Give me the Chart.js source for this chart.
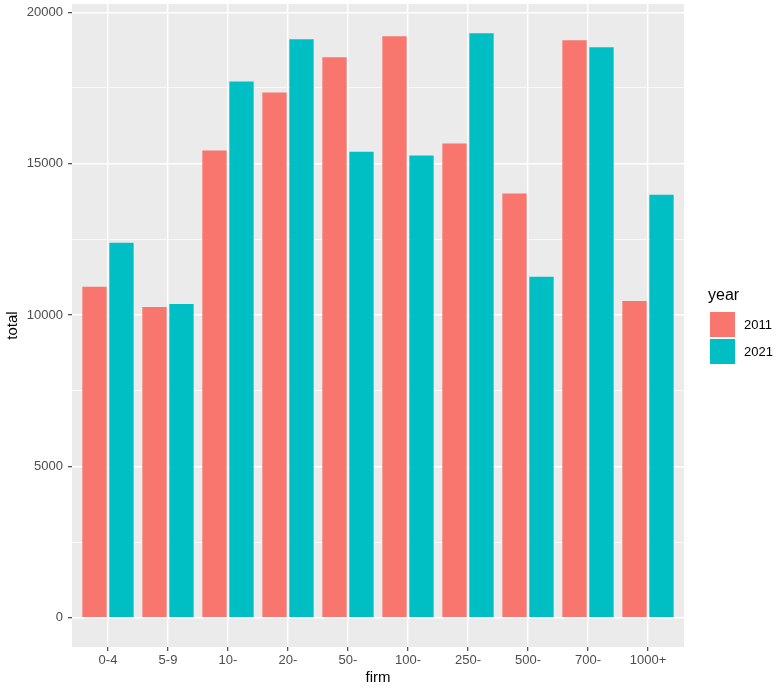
<!DOCTYPE html>
<html>
<head>
<meta charset="utf-8">
<script src="https://cdn.jsdelivr.net/npm/chart.js@4.4.1/dist/chart.umd.min.js"></script>
<style>
  html, body { margin: 0; padding: 0; background: #fff; }
  #wrap { width: 779px; height: 689px; }
</style>
</head>
<body>
<div id="wrap"><canvas id="chart" width="779" height="689"></canvas></div>
<script>
// data
const firms = ['0-4', '5-9', '10-', '20-', '50-', '100-', '250-', '500-', '700-', '1000+'];
const years = ['2011', '2021'];
const total2011 = [10930, 10265, 15430, 17350, 18510, 19205, 15660, 14010, 19070, 10465];
const total2021 = [12385, 10365, 17715, 19105, 15395, 15265, 19305, 11260, 18840, 13975];
const yTicks = [0, 2500, 5000, 7500, 10000, 12500, 15000, 17500, 20000];
const colors = ['#F8766D', '#00BFC4'];

const FONT = 'Liberation Sans, Arial, sans-serif';
const tickFont = { family: FONT, size: 13 };
const titleFont = { family: FONT, size: 15 };

// grey panel behind the grid, ggplot style
const panelBg = {
  id: 'panelBg',
  beforeDraw(chart) {
    const a = chart.chartArea;
    const ctx = chart.ctx;
    ctx.save();
    ctx.fillStyle = '#EBEBEB';
    ctx.fillRect(a.left, a.top, a.right - a.left, a.bottom - a.top);
    ctx.restore();
  }
};

// legend on the right, drawn like ggplot's guide
const sideLegend = {
  id: 'sideLegend',
  afterDraw(chart) {
    const ctx = chart.ctx;
    const x = 710;
    ctx.save();
    ctx.fillStyle = '#000';
    ctx.textBaseline = 'alphabetic';
    ctx.textAlign = 'left';
    ctx.font = '16px ' + FONT;
    ctx.fillText('year', 708, 300);
    ctx.font = '13px ' + FONT;
    chart.data.datasets.forEach((ds, i) => {
      const y = 312 + i * 27;
      ctx.fillStyle = ds.backgroundColor;
      ctx.fillRect(x, y, 25, 25);
      ctx.fillStyle = '#000';
      ctx.textBaseline = 'middle';
      ctx.fillText(ds.label, 744, y + 13);
    });
    ctx.restore();
  }
};

new Chart(document.getElementById('chart'), {
  type: 'bar',
  data: {
    datasets: [
      { label: years[0], data: total2011.map((v, i) => ({ x: i, y: v })), backgroundColor: colors[0], borderWidth: 0 },
      { label: years[1], data: total2021.map((v, i) => ({ x: i, y: v })), backgroundColor: colors[1], borderWidth: 0 }
    ]
  },
  options: {
    responsive: false,
    animation: false,
    categoryPercentage: 0.9,
    barPercentage: 0.9,
    layout: { padding: { left: 0, right: 95, top: 4, bottom: 0 } },
    plugins: {
      tooltip: { enabled: false },
      legend: { display: false }
    },
    scales: {
      x: {
        type: 'linear',
        offset: false,
        min: -0.6,
        max: 9.6,
        afterBuildTicks(scale) { scale.ticks = firms.map((_, i) => ({ value: i })); },
        afterFit(scale) { scale.height = 42; scale.paddingLeft = 0; scale.paddingRight = 0; },
        border: { display: false },
        grid: { offset: false, color: '#FFFFFF', lineWidth: 1.4, tickLength: 4, tickColor: '#333333', tickWidth: 1.1 },
        ticks: { color: '#4D4D4D', font: tickFont, padding: 2, autoSkip: false, maxRotation: 0,
          callback: (v) => firms[v] },
        title: { display: true, text: 'firm', color: '#000', font: titleFont, padding: { top: 0, bottom: 2 } }
      },
      y: {
        min: -965,
        max: 20271,
        afterBuildTicks(scale) { scale.ticks = yTicks.map(v => ({ value: v })); },
        afterFit(scale) { scale.width = 72; scale.paddingTop = 0; scale.paddingBottom = 0; },
        border: { display: false },
        grid: {
          color: '#FFFFFF',
          lineWidth: (c) => (c.tick && c.tick.value % 5000 === 0 ? 1.4 : 0.7),
          tickLength: 4,
          tickColor: (c) => (c.tick && c.tick.value % 5000 === 0 ? '#333333' : 'rgba(0,0,0,0)'),
          tickWidth: 1.1
        },
        ticks: { color: '#4D4D4D', font: tickFont, padding: 5,
          callback: (v) => (v % 5000 === 0 ? String(v) : '') },
        title: { display: true, text: 'total', color: '#000', font: titleFont, padding: { top: 4, bottom: 0 } }
      }
    }
  },
  plugins: [panelBg, sideLegend]
});
</script>
</body>
</html>
